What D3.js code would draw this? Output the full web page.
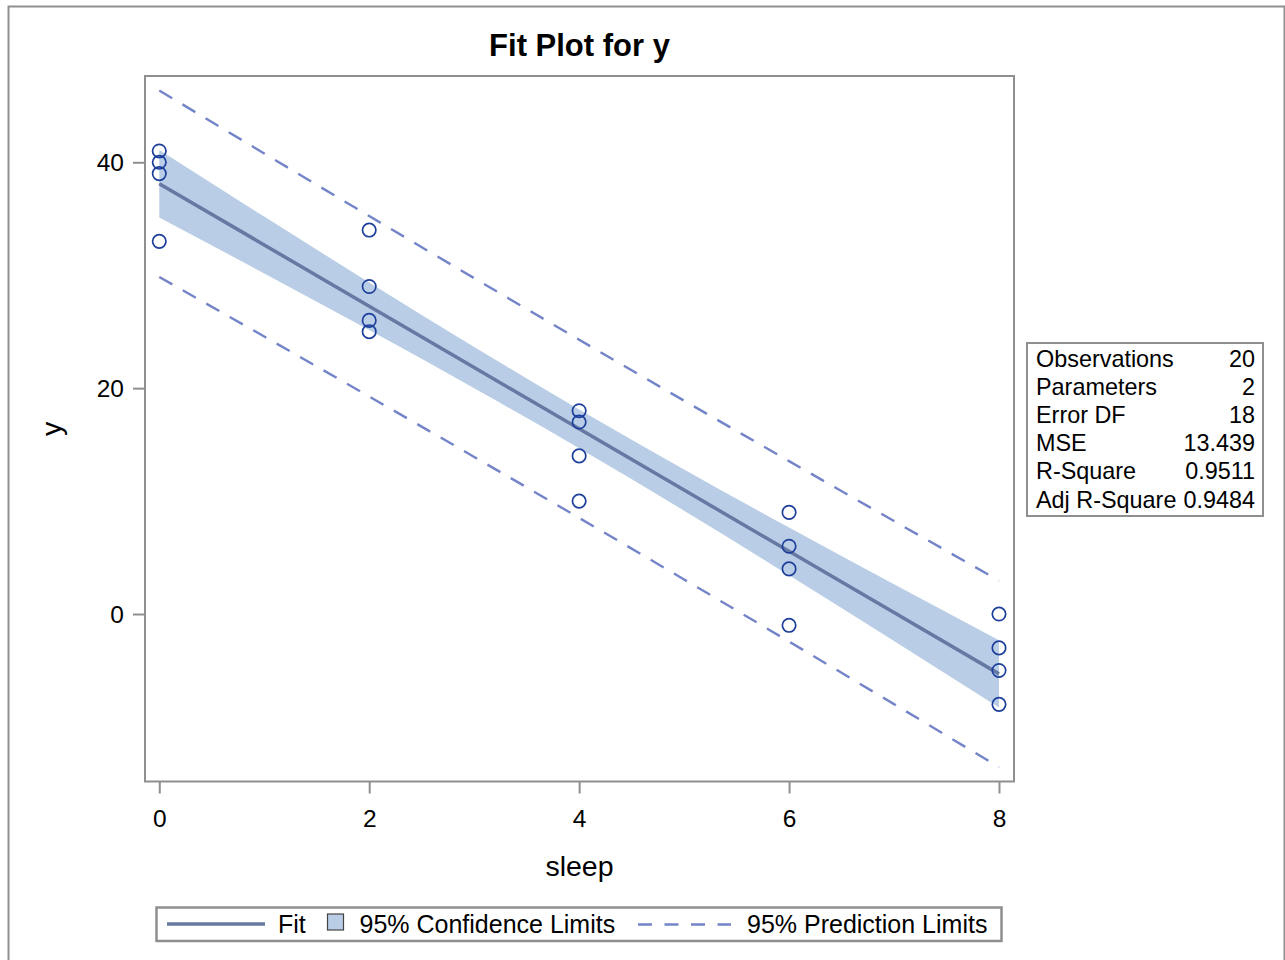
<!DOCTYPE html>
<html>
<head>
<meta charset="utf-8">
<title>Fit Plot for y</title>
<script src="https://cdn.jsdelivr.net/npm/d3@7/dist/d3.min.js"></script>
<style>
  html, body { margin: 0; padding: 0; background: #fff; }
  svg { display: block; font-family: "Liberation Sans", Arial, sans-serif; }
</style>
</head>
<body>
<svg id="chart" width="1285" height="960"></svg>
<script>
// Observations: hours of sleep vs. response
const sleepValues = [0, 0, 0, 0, 2, 2, 2, 2, 4, 4, 4, 4, 6, 6, 6, 6, 8, 8, 8, 8];
const yValues     = [41, 40, 39, 33, 34, 29, 26, 25, 18, 17, 14, 10, 9, 6, 4, -1, 0, -3, -5, -8];

// Fitted line and 95% limits evaluated along sleep
const bandX   = [0, 1, 2, 3, 4, 5, 6, 7, 8];
const fitY    = [38.10, 32.68, 27.25, 21.83, 16.40, 10.98, 5.55, 0.13, -5.30];
const clLower = [35.12, 30.16, 25.14, 20.00, 14.68, 9.15, 3.44, -2.39, -8.28];
const clUpper = [41.08, 35.19, 29.36, 23.65, 18.12, 12.80, 7.66, 2.64, -2.32];
const plLower = [29.84, 24.57, 19.26, 13.91, 8.51, 3.06, -2.44, -7.98, -13.56];
const plUpper = [46.36, 40.78, 35.24, 29.74, 24.29, 18.89, 13.54, 8.23, 2.96];

// Axis ticks
const xTicks = [0, 2, 4, 6, 8];
const yTicks = [0, 20, 40];

// Fit statistics table
const statLabels = ["Observations", "Parameters", "Error DF", "MSE", "R-Square", "Adj R-Square"];
const statValues = ["20", "2", "18", "13.439", "0.9511", "0.9484"];

// Legend entries
const legendLabels = ["Fit", "95% Confidence Limits", "95% Prediction Limits"];

const C = {
  frame: "#8f8f8f",
  band: "#b9cde6",
  fit: "#6679a3",
  pred: "#7484c8",
  point: "#1d3f9c",
  text: "#000"
};

const svg = d3.select("#chart");

// Outer graph border
svg.append("rect")
  .attr("x", 8.5).attr("y", 6.5)
  .attr("width", 1276).attr("height", 980)
  .attr("fill", "none").attr("stroke", C.frame).attr("stroke-width", 2);

const plot = { left: 145, top: 76, right: 1014, bottom: 781.5 };

const x = d3.scaleLinear().domain([-0.136, 8.143]).range([plot.left, plot.right]);
const y = d3.scaleLinear().domain([-14.83, 47.64]).range([plot.bottom, plot.top]);

// Title
svg.append("text")
  .attr("x", (plot.left + plot.right) / 2).attr("y", 56)
  .attr("text-anchor", "middle")
  .attr("font-size", 31).attr("font-weight", "bold")
  .attr("fill", C.text)
  .text("Fit Plot for y");

const g = svg.append("g");

const bandData = bandX.map((v, i) => ({ x: v, fit: fitY[i], cl: clLower[i], cu: clUpper[i], pl: plLower[i], pu: plUpper[i] }));

// Confidence band
g.append("path")
  .datum(bandData)
  .attr("fill", C.band)
  .attr("d", d3.area().x(d => x(d.x)).y0(d => y(d.cl)).y1(d => y(d.cu)).curve(d3.curveMonotoneX));

// Fit line
g.append("path")
  .datum(bandData)
  .attr("fill", "none").attr("stroke", C.fit).attr("stroke-width", 3.5)
  .attr("d", d3.line().x(d => x(d.x)).y(d => y(d.fit)));

// Prediction limits
["pl", "pu"].forEach(k => {
  g.append("path")
    .datum(bandData)
    .attr("fill", "none").attr("stroke", C.pred).attr("stroke-width", 2.4)
    .attr("stroke-dasharray", "15,12")
    .attr("d", d3.line().x(d => x(d.x)).y(d => y(d[k])).curve(d3.curveMonotoneX));
});

// Observations
g.selectAll("circle.obs")
  .data(sleepValues.map((s, i) => ({ s, v: yValues[i] })))
  .join("circle")
  .attr("class", "obs")
  .attr("cx", d => x(d.s)).attr("cy", d => y(d.v))
  .attr("r", 6.7)
  .attr("fill", "none").attr("stroke", C.point).attr("stroke-width", 1.7);

// Plot frame
svg.append("rect")
  .attr("x", plot.left).attr("y", plot.top)
  .attr("width", plot.right - plot.left).attr("height", plot.bottom - plot.top)
  .attr("fill", "none").attr("stroke", C.frame).attr("stroke-width", 2);

// Axes
const xAxis = svg.append("g")
  .attr("transform", `translate(0,${plot.bottom})`)
  .call(d3.axisBottom(x).tickValues(xTicks).tickSize(12).tickPadding(8).tickFormat(d3.format("d")));
const yAxis = svg.append("g")
  .attr("transform", `translate(${plot.left},0)`)
  .call(d3.axisLeft(y).tickValues(yTicks).tickSize(12).tickPadding(9).tickFormat(d3.format("d")));

[xAxis, yAxis].forEach(a => {
  a.select(".domain").remove();
  a.selectAll(".tick line").attr("stroke", C.frame).attr("stroke-width", 2);
  a.selectAll(".tick text").attr("fill", C.text)
    .style("font-size", "24.5px").style("font-family", "'Liberation Sans', Arial, sans-serif");
});
xAxis.selectAll(".tick text").attr("dy", null).attr("y", 0).attr("transform", "translate(0,45.5)");
yAxis.selectAll(".tick text").attr("dy", "0.35em");

// Axis labels
svg.append("text")
  .attr("x", (plot.left + plot.right) / 2).attr("y", 876)
  .attr("text-anchor", "middle").attr("font-size", 28.5).attr("fill", C.text)
  .text("sleep");
svg.append("text")
  .attr("transform", `translate(61,${(plot.top + plot.bottom) / 2}) rotate(-90)`)
  .attr("text-anchor", "middle").attr("font-size", 28.5).attr("fill", C.text)
  .text("y");

// Fit statistics inset
const stat = { left: 1027, top: 343, width: 236, height: 173, rowH: 28.2, firstBase: 366.5 };
svg.append("rect")
  .attr("x", stat.left).attr("y", stat.top)
  .attr("width", stat.width).attr("height", stat.height)
  .attr("fill", "#fff").attr("stroke", C.frame).attr("stroke-width", 2);
const rows = svg.append("g").attr("font-size", 23.4).attr("fill", C.text);
statLabels.forEach((lab, i) => {
  const by = stat.firstBase + i * stat.rowH;
  rows.append("text").attr("x", stat.left + 9).attr("y", by).text(lab);
  rows.append("text").attr("x", stat.left + stat.width - 8).attr("y", by)
    .attr("text-anchor", "end").text(statValues[i]);
});

// Legend
const lg = svg.append("g");
lg.append("rect")
  .attr("x", 156.5).attr("y", 907.5)
  .attr("width", 845).attr("height", 33.5)
  .attr("fill", "#fff").attr("stroke", C.frame).attr("stroke-width", 2.5);
const lgBase = 932.5;
lg.append("line")
  .attr("x1", 167).attr("x2", 265).attr("y1", 924).attr("y2", 924)
  .attr("stroke", C.fit).attr("stroke-width", 3.5);
lg.append("text").attr("x", 278).attr("y", lgBase).attr("font-size", 25).attr("fill", C.text).text(legendLabels[0]);
lg.append("rect")
  .attr("x", 327.5).attr("y", 914).attr("width", 16).attr("height", 16)
  .attr("fill", C.band).attr("stroke", "#444").attr("stroke-width", 1.2);
lg.append("text").attr("x", 359.5).attr("y", lgBase).attr("font-size", 25).attr("fill", C.text).text(legendLabels[1]);
lg.append("line")
  .attr("x1", 638).attr("x2", 731).attr("y1", 924.5).attr("y2", 924.5)
  .attr("stroke", C.pred).attr("stroke-width", 2.4)
  .attr("stroke-dasharray", "14,12.5");
lg.append("text").attr("x", 747).attr("y", lgBase).attr("font-size", 25).attr("fill", C.text).text(legendLabels[2]);
</script>
</body>
</html>
